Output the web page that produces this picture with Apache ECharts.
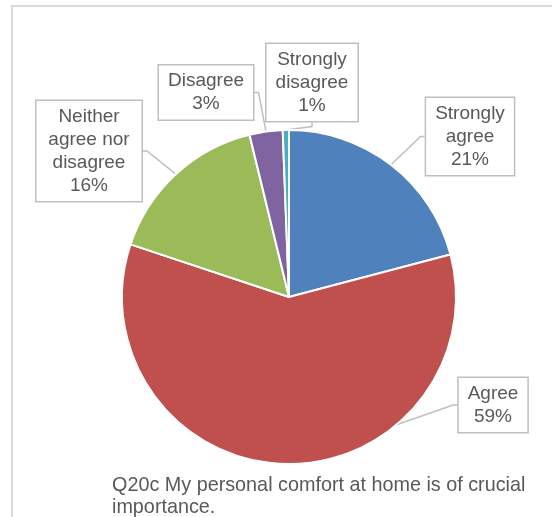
<!DOCTYPE html>
<html>
<head>
<meta charset="utf-8">
<script src="https://cdn.jsdelivr.net/npm/echarts@6/dist/echarts.min.js"></script>
<style>html,body{margin:0;padding:0;background:#fff}#c{width:552px;height:517px}</style>
</head>
<body>
<div id="c"></div>
<script>
var categories = ["Strongly agree", "Agree", "Neither agree nor disagree", "Disagree", "Strongly disagree"];
var labelNames = ["Strongly\nagree", "Agree", "Neither\nagree nor\ndisagree", "Disagree", "Strongly\ndisagree"];
var values = [20.9, 59.2, 16.1, 3.2, 0.6];
var colors = ["#4F81BD", "#C0504D", "#9BBB59", "#8064A2", "#4BACC6"];
var titleText = "Q20c My personal comfort at home is of crucial\nimportance.";
// label box centres (layout only)
var labelPos = [[470, 136.5], [493, 405], [89, 151], [206, 92.5], [312, 82.5]];

var chart = echarts.init(document.getElementById('c'));
var font = "'Liberation Sans', Arial, sans-serif";
chart.setOption({
  animation: false,
  graphic: [{
    type: 'rect', shape: {x: 12, y: 6, width: 600, height: 600},
    style: {fill: 'none', stroke: '#d9d9d9', lineWidth: 2}, silent: true
  }],
  title: {
    text: titleText, left: 112, top: 475, padding: 0,
    textStyle: {fontFamily: font, fontSize: 19.8, lineHeight: 22, fontWeight: 'normal', color: '#595959'}
  },
  series: [{
    type: 'pie',
    center: [289, 297],
    radius: 167,
    startAngle: 90,
    clockwise: true,
    data: categories.map(function (c, i) {
      return {name: c, value: values[i], itemStyle: {color: colors[i]}};
    }),
    itemStyle: {borderColor: '#fff', borderWidth: 2},
    label: {
      show: true,
      overflow: 'none',
      formatter: function (p) {
        return labelNames[p.dataIndex] + '\n' + Math.round(p.value) + '%';
      },
      fontFamily: font, fontSize: 19, lineHeight: 23, color: '#595959',
      align: 'center',
      backgroundColor: '#fff', borderColor: '#bfbfbf', borderWidth: 1.5,
      padding: [4, 9]
    },
    labelLine: {show: true, length: 4, length2: 4, lineStyle: {color: '#bfbfbf', width: 1.5}},
    labelLayout: function (params) {
      var p = labelPos[params.dataIndex];
      return {x: p[0], y: p[1], align: 'center', verticalAlign: 'middle'};
    },
    emphasis: {disabled: true}
  }]
});
</script>
</body>
</html>
